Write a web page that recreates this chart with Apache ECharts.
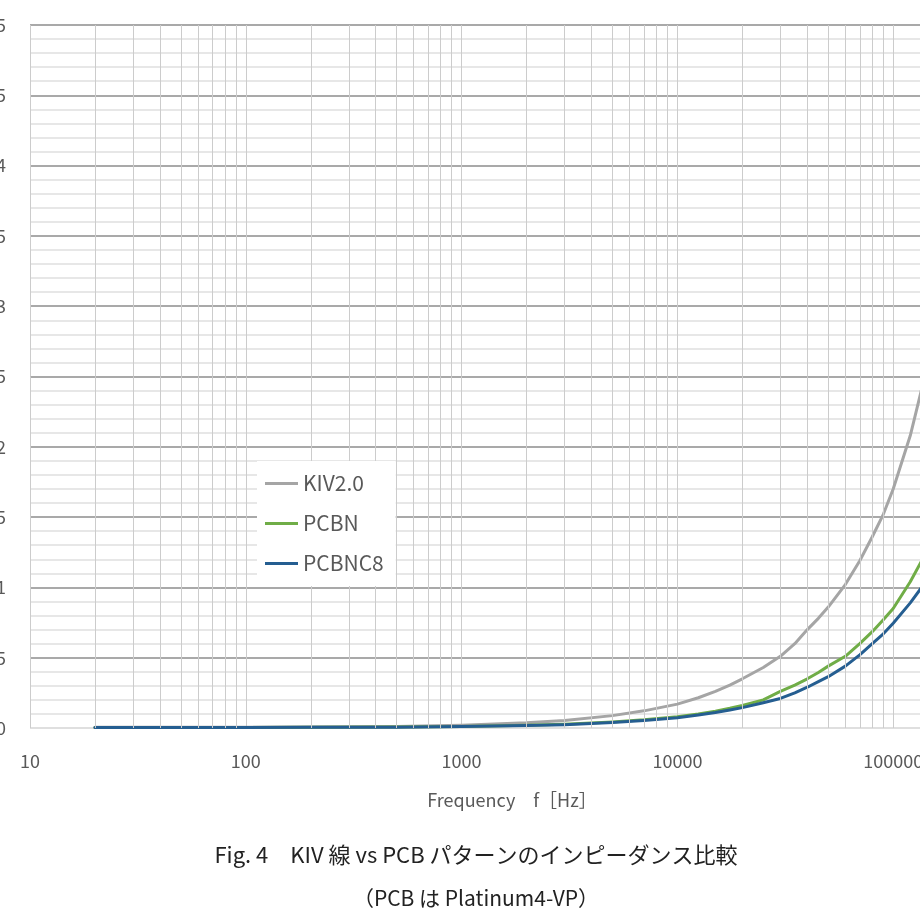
<!DOCTYPE html>
<html>
<head>
<meta charset="utf-8">
<script src="https://cdn.jsdelivr.net/npm/echarts@6/dist/echarts.min.js"></script>
<style>
  html, body { margin: 0; padding: 0; background: #fff; }
  #chart { width: 920px; height: 920px; }
</style>
</head>
<body>
<div id="chart"></div>
<script>
// 周波数 [Hz]
const freqs = [20, 50, 100, 200, 500, 1000, 2000, 3000, 5000, 7000, 10000, 12500, 15000, 17500, 20000, 25000,
  30000, 35000, 40000, 45000, 50000, 60000, 70000, 80000, 90000, 100000, 120000, 140000];

// インピーダンス
const kiv20 = [0.005, 0.005, 0.006, 0.007, 0.011, 0.02, 0.037, 0.054, 0.088, 0.122, 0.17, 0.215, 0.26, 0.305, 0.35, 0.43,
  0.51, 0.60, 0.70, 0.78, 0.86, 1.02, 1.19, 1.36, 1.52, 1.70, 2.08, 2.50];
const pcbn = [0.004, 0.004, 0.004, 0.005, 0.007, 0.011, 0.019, 0.027, 0.043, 0.058, 0.08, 0.10, 0.12, 0.14, 0.16, 0.20,
  0.26, 0.305, 0.35, 0.395, 0.44, 0.51, 0.60, 0.685, 0.77, 0.85, 1.04, 1.23];
const pcbnc8 = [0.004, 0.004, 0.004, 0.005, 0.006, 0.01, 0.017, 0.024, 0.039, 0.053, 0.073, 0.092, 0.11, 0.128, 0.145, 0.18,
  0.21, 0.25, 0.29, 0.33, 0.365, 0.44, 0.52, 0.60, 0.67, 0.745, 0.89, 1.03];

const seriesNames = ['KIV2.0', 'PCBN', 'PCBNC8'];
const seriesColors = ['#a5a5a5', '#70ad47', '#255e91'];

// 補助目盛（各デケードの 2〜9 倍）
const decades = [10, 100, 1000, 10000, 100000];
const minorSteps = [2, 3, 4, 5, 6, 7, 8, 9];
const minorLines = [];
decades.forEach(d => minorSteps.forEach(m => minorLines.push({ xAxis: d * m })));

const font = '"Noto Sans CJK JP", "Noto Sans", sans-serif';

function pairs(ys) {
  return freqs.map((f, i) => [f, ys[i]]);
}

const chart = echarts.init(document.getElementById('chart'));

const lineSeries = [kiv20, pcbn, pcbnc8].map((ys, i) => ({
  name: seriesNames[i],
  type: 'line',
  data: pairs(ys),
  smooth: false,
  showSymbol: false,
  symbol: 'none',
  z: 3,
  lineStyle: { color: seriesColors[i], width: 3, join: 'round', cap: 'round' },
  itemStyle: { color: seriesColors[i] }
}));

chart.setOption({
  animation: false,
  backgroundColor: '#ffffff',
  grid: { left: 30, top: 25, width: 1079, height: 703, outerBoundsMode: 'none', containLabel: false },
  legend: {
    orient: 'vertical',
    left: 257,
    top: 461,
    z: 10,
    data: seriesNames,
    icon: 'rect',
    itemWidth: 33,
    itemHeight: 3,
    itemGap: 19,
    padding: [12, 12, 12, 8],
    backgroundColor: '#ffffff',
    textStyle: { color: '#595959', fontSize: 21, fontFamily: font, lineHeight: 21 }
  },
  xAxis: {
    type: 'log',
    logBase: 10,
    min: 10,
    max: 1000000,
    axisLine: { show: false },
    axisTick: { show: false },
    axisLabel: {
      color: '#595959',
      fontSize: 18,
      fontFamily: font,
      margin: 24,
      formatter: v => String(Math.round(v))
    },
    splitLine: { show: true, lineStyle: { color: '#cccccc', width: 1 } }
  },
  yAxis: {
    type: 'value',
    min: 0,
    max: 5,
    interval: 0.5,
    axisLine: { show: false },
    axisTick: { show: false },
    axisLabel: { color: '#595959', fontSize: 18, fontFamily: font, margin: 24 },
    splitLine: {
      show: true,
      lineStyle: {
        color: ['#d4d4d4', '#8c8c8c', '#8c8c8c', '#8c8c8c', '#8c8c8c', '#8c8c8c',
          '#8c8c8c', '#8c8c8c', '#8c8c8c', '#8c8c8c', '#8c8c8c'],
        width: 1.5
      }
    },
    minorTick: { show: false, splitNumber: 5 },
    minorSplitLine: { show: true, lineStyle: { color: '#e0e0e0', width: 1.5 } }
  },
  series: [
    {
      name: 'minor-grid',
      type: 'line',
      data: [[20, 0]],
      showSymbol: false,
      silent: true,
      z: 1,
      lineStyle: { opacity: 0 },
      markLine: {
        silent: true,
        symbol: 'none',
        animation: false,
        label: { show: false },
        lineStyle: { color: '#cccccc', width: 1, type: 'solid' },
        emphasis: { disabled: true },
        data: minorLines
      }
    }
  ].concat(lineSeries),
  graphic: [
    {
      type: 'text',
      z: 20,
      style: {
        x: 512, y: 800,
        text: 'Frequency　f［Hz］',
        fill: '#595959',
        font: '18px ' + font,
        textAlign: 'center',
        textVerticalAlign: 'middle'
      }
    },
    {
      type: 'text',
      z: 20,
      style: {
        x: 476, y: 855,
        text: 'Fig. 4　KIV 線 vs PCB パターンのインピーダンス比較',
        fill: '#222222',
        font: '22px ' + font,
        textAlign: 'center',
        textVerticalAlign: 'middle'
      }
    },
    {
      type: 'text',
      z: 20,
      style: {
        x: 476, y: 898,
        text: '（PCB は Platinum4-VP）',
        fill: '#222222',
        font: '21px ' + font,
        textAlign: 'center',
        textVerticalAlign: 'middle'
      }
    }
  ]
});
</script>
</body>
</html>
